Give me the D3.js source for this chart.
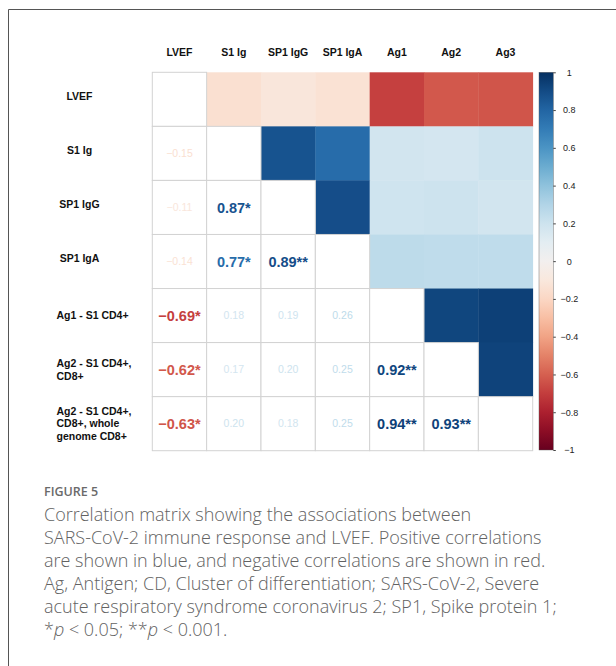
<!DOCTYPE html>
<html>
<head>
<meta charset="utf-8">
<script src="https://cdn.jsdelivr.net/npm/d3@7"></script>
<style>
body { margin: 0; background: #fff; }
</style>
</head>
<body>
<script>
// row / column names of the matrix
const rowLabels = [
  ["LVEF"],
  ["S1 Ig"],
  ["SP1 IgG"],
  ["SP1 IgA"],
  ["Ag1 - S1 CD4+"],
  ["Ag2 - S1 CD4+,", "CD8+"],
  ["Ag2 - S1 CD4+,", "CD8+, whole", "genome CD8+"]
];
const colLabels = ["LVEF", "S1 Ig", "SP1 IgG", "SP1 IgA", "Ag1", "Ag2", "Ag3"];

// lower triangle, one row at a time (upper triangle is the mirror)
const corrValues = [
  [],
  [-0.15],
  [-0.11, 0.87],
  [-0.14, 0.77, 0.89],
  [-0.69, 0.18, 0.19, 0.26],
  [-0.62, 0.17, 0.20, 0.25, 0.92],
  [-0.63, 0.20, 0.18, 0.25, 0.94, 0.93]
];
const sigMarks = [
  [],
  [""],
  ["", "*"],
  ["", "*", "**"],
  ["*", "", "", ""],
  ["*", "", "", "", "**"],
  ["*", "", "", "", "**", "**"]
];
const legendTicks = [1, 0.8, 0.6, 0.4, 0.2, 0, -0.2, -0.4, -0.6, -0.8, -1];

const captionTitle = "FIGURE 5";
const captionLines = [
  "Correlation matrix showing the associations between",
  "SARS-CoV-2 immune response and LVEF. Positive correlations",
  "are shown in blue, and negative correlations are shown in red.",
  "Ag, Antigen; CD, Cluster of differentiation; SARS-CoV-2, Severe",
  "acute respiratory syndrome coronavirus 2; SP1, Spike protein 1;"
];

const width = 616;
const height = 666;
const labelFont = "'Liberation Sans', Arial, Helvetica, sans-serif";

const svg = d3.select("body").append("svg")
  .attr("width", width)
  .attr("height", height)
  .style("display", "block");

// frame around the figure (only top and left edges are in view)
svg.append("path")
  .attr("d", "M8.5," + height + "V9.5H" + width)
  .attr("fill", "none")
  .attr("stroke", "#555")
  .attr("stroke-width", 1);

const n = colLabels.length;
const x = d3.scaleBand().domain(d3.range(n)).range([152.3, 532.7]);
const y = d3.scaleBand().domain(d3.range(n)).range([72.3, 450.7]);
const color = d3.scaleSequential(d3.interpolateRdBu).domain([-1, 1]);

// build the full cell list from the lower triangle
const cells = [];
for (let i = 0; i < n; i++) {
  for (let j = 0; j < n; j++) {
    if (j < i) cells.push({ r: i, c: j, v: corrValues[i][j], sig: sigMarks[i][j], part: "lower" });
    else if (j > i) cells.push({ r: i, c: j, v: corrValues[j][i], sig: sigMarks[j][i], part: "upper" });
    else cells.push({ r: i, c: j, v: 1, sig: "", part: "diag" });
  }
}

const matrix = svg.append("g");

matrix.selectAll("rect.upper")
  .data(cells.filter(d => d.part === "upper"))
  .enter()
  .append("rect")
  .attr("class", "upper")
  .attr("x", d => x(d.c))
  .attr("y", d => y(d.r))
  .attr("width", x.bandwidth() + 0.4)
  .attr("height", y.bandwidth() + 0.4)
  .attr("fill", d => color(d.v));

matrix.selectAll("rect.plain")
  .data(cells.filter(d => d.part !== "upper"))
  .enter()
  .append("rect")
  .attr("class", "plain")
  .attr("x", d => x(d.c))
  .attr("y", d => y(d.r))
  .attr("width", x.bandwidth())
  .attr("height", y.bandwidth())
  .attr("fill", "#fff")
  .attr("stroke", "#d2d2d2")
  .attr("stroke-width", 1);

const fmt = v => (v < 0 ? "\u2212" : "") + Math.abs(v).toFixed(2);

matrix.selectAll("text.val")
  .data(cells.filter(d => d.part === "lower"))
  .enter()
  .append("text")
  .attr("class", "val")
  .attr("x", d => x(d.c) + x.bandwidth() / 2)
  .attr("y", d => y(d.r) + y.bandwidth() / 2)
  .attr("dy", "0.36em")
  .attr("text-anchor", "middle")
  .attr("font-family", labelFont)
  .attr("font-weight", d => d.sig ? "bold" : "normal")
  .attr("font-size", d => d.sig ? 14.5 : 10.5)
  .attr("fill", d => color(d.v))
  .text(d => fmt(d.v) + d.sig);

// column headers
svg.selectAll("text.col")
  .data(colLabels)
  .enter()
  .append("text")
  .attr("class", "col")
  .attr("x", (d, i) => x(i) + x.bandwidth() / 2)
  .attr("y", 56)
  .attr("text-anchor", "middle")
  .attr("font-family", labelFont)
  .attr("font-weight", "bold")
  .attr("font-size", 10.5)
  .attr("fill", "#111")
  .text(d => d);

// row labels: short ones centred, long ones left aligned
const rows = svg.selectAll("text.row")
  .data(rowLabels)
  .enter()
  .append("text")
  .attr("class", "row")
  .attr("font-family", labelFont)
  .attr("font-weight", "bold")
  .attr("font-size", 10.5)
  .attr("fill", "#111")
  .attr("text-anchor", (d, i) => i < 4 ? "middle" : "start");

rows.each(function(d, i) {
  const lineH = 12.5;
  const cy = y(i) + y.bandwidth() / 2 - (i < 4 ? 3 : 0);
  const top = cy - (d.length - 1) * lineH / 2;
  d3.select(this).selectAll("tspan")
    .data(d)
    .enter()
    .append("tspan")
    .attr("x", i < 4 ? 79.5 : 56.5)
    .attr("y", (t, k) => top + k * lineH)
    .attr("dy", "0.36em")
    .text(t => t);
});

// colour legend
const legY = d3.scaleLinear().domain([-1, 1]).range([450, 72.3]);
const grad = svg.append("defs").append("linearGradient")
  .attr("id", "rdbu")
  .attr("x1", 0).attr("y1", 1).attr("x2", 0).attr("y2", 0);
grad.selectAll("stop")
  .data(d3.range(0, 1.0001, 0.05))
  .enter()
  .append("stop")
  .attr("offset", d => d)
  .attr("stop-color", d => d3.interpolateRdBu(d));

svg.append("rect")
  .attr("x", 539)
  .attr("y", legY(1))
  .attr("width", 14.3)
  .attr("height", legY(-1) - legY(1))
  .attr("fill", "url(#rdbu)")
  .attr("stroke", "#555")
  .attr("stroke-width", 0.4);

const legAxis = svg.append("g")
  .attr("transform", "translate(553.3,0)")
  .call(d3.axisRight(legY)
    .tickValues(legendTicks)
    .tickSize(2.5)
    .tickSizeOuter(0)
    .tickFormat(d => d3.format("")(d)));
legAxis.select(".domain").remove();
legAxis.selectAll("line").attr("stroke", "#444");
legAxis.selectAll("text")
  .attr("x", 16)
  .attr("text-anchor", "middle")
  .attr("font-family", labelFont)
  .attr("font-size", 9)
  .attr("fill", "#222");

// caption
const capFont = "'Open Sans', 'Noto Sans', sans-serif";
svg.append("text")
  .attr("x", 44)
  .attr("y", 495.7)
  .attr("font-family", capFont)
  .attr("font-size", 12.5)
  .attr("font-weight", 600)
  .attr("fill", "#6a6a6a")
  .text(captionTitle);

const capSize = 18;
svg.selectAll("text.cap")
  .data(captionLines)
  .enter()
  .append("text")
  .attr("class", "cap")
  .attr("x", 44)
  .attr("y", (d, i) => 520.7 + i * 23)
  .attr("font-family", capFont)
  .attr("font-size", capSize)
  .attr("font-weight", 300)
  .attr("fill", "#626262")
  .text(d => d);

const last = svg.append("text")
  .attr("x", 44)
  .attr("y", 520.7 + captionLines.length * 23)
  .attr("font-family", capFont)
  .attr("font-size", capSize)
  .attr("font-weight", 300)
  .attr("fill", "#626262");
last.append("tspan").text("*");
last.append("tspan").attr("font-style", "italic").text("p");
last.append("tspan").text(" < 0.05; **");
last.append("tspan").attr("font-style", "italic").text("p");
last.append("tspan").text(" < 0.001.");
</script>
</body>
</html>
